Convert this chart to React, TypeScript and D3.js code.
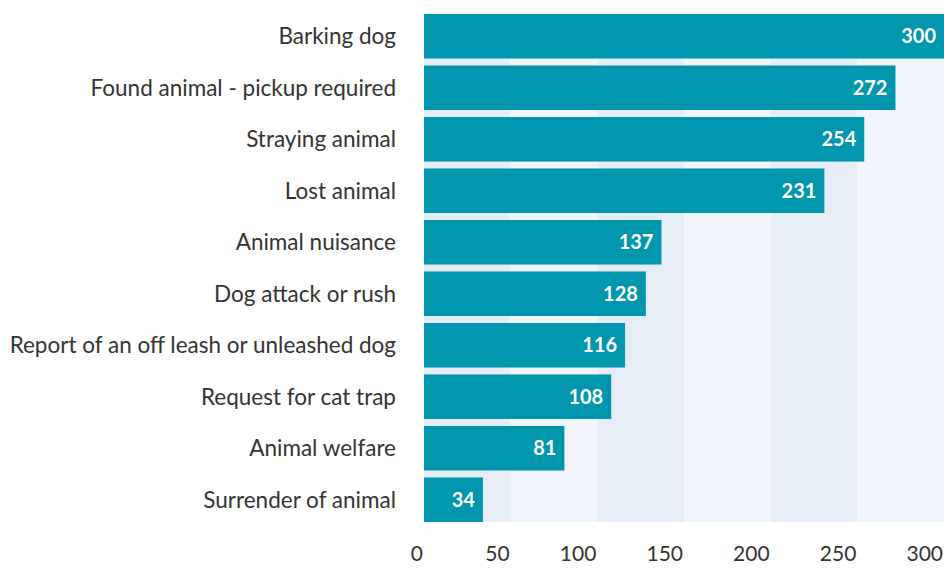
import React from "react";
import * as d3 from "d3";

const categories = [
  "Barking dog",
  "Found animal - pickup required",
  "Straying animal",
  "Lost animal",
  "Animal nuisance",
  "Dog attack or rush",
  "Report of an off leash or unleashed dog",
  "Request for cat trap",
  "Animal welfare",
  "Surrender of animal",
];
const counts = [300, 272, 254, 231, 137, 128, 116, 108, 81, 34];
const xTicks = [0, 50, 100, 150, 200, 250, 300];

const width = 944;
const height = 577;
const margin = { top: 14, right: 0, bottom: 55, left: 424 };

const BAR = "#0096ae";
const BAND_DARK = "#e6edf7";
const BAND_LIGHT = "#f1f5fb";
const FONT = "Lato, 'Open Sans', sans-serif";

export default function App() {
  const x = d3
    .scaleLinear()
    .domain([0, 300])
    .range([margin.left, width - margin.right]);

  const y = d3
    .scaleBand<string>()
    .domain(categories)
    .range([margin.top, height - margin.bottom])
    .paddingInner(0.135)
    .paddingOuter(0);

  const top = margin.top;
  const bottom = height - margin.bottom;

  return (
    <svg
      width={width}
      height={height}
      style={{ position: "absolute", left: 0, top: 0 }}
      fontFamily={FONT}
    >
      {/* alternating background bands */}
      {xTicks.slice(0, -1).map((t, i) => (
        <rect
          key={t}
          x={x(t)}
          y={top}
          width={x(xTicks[i + 1]) - x(t)}
          height={bottom - top}
          fill={i % 2 === 0 ? BAND_DARK : BAND_LIGHT}
        />
      ))}

      {categories.map((c, i) => (
        <g key={c}>
          <rect
            x={x(0)}
            y={y(c)}
            width={x(counts[i]) - x(0)}
            height={y.bandwidth()}
            fill={BAR}
          />
          <text
            x={x(counts[i]) - 8}
            y={(y(c) ?? 0) + y.bandwidth() / 2}
            dy="0.35em"
            textAnchor="end"
            fill="#fff"
            fontWeight={700}
            fontSize={20}
          >
            {counts[i]}
          </text>
          <text
            x={396}
            y={(y(c) ?? 0) + y.bandwidth() / 2}
            dy="0.35em"
            textAnchor="end"
            fill="#333"
            fontSize={22.5}
          >
            {c}
          </text>
        </g>
      ))}

      {xTicks.map((t) => (
        <text
          key={t}
          x={x(t) - 1}
          y={561}
          textAnchor="end"
          fill="#333"
          fontSize={21}
        >
          {t}
        </text>
      ))}
    </svg>
  );
}
